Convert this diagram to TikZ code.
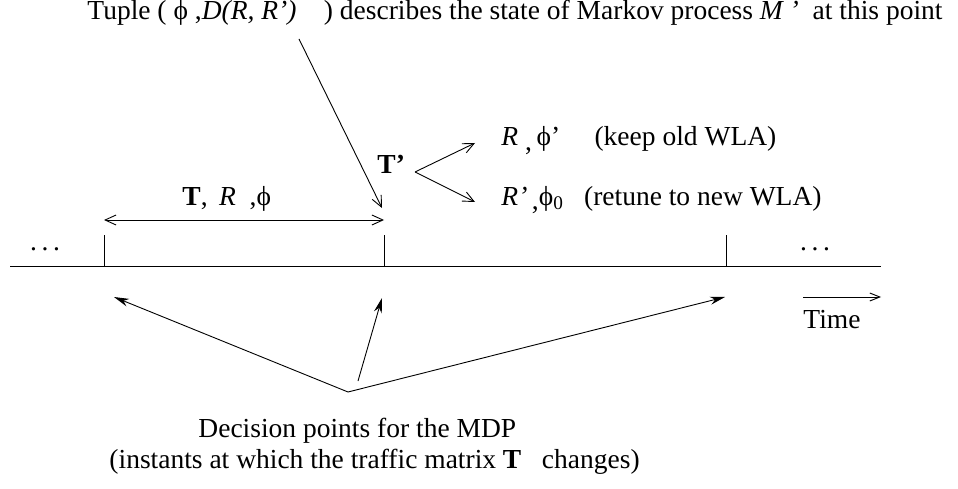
\documentclass[tikz,border=0pt]{standalone}
\usepackage{fontspec}
\setmainfont{Liberation Serif}
\usetikzlibrary{positioning, arrows.meta}

\begin{document}
\begin{tikzpicture}[
  x=1pt, y=-1pt,
  every path/.style={line width=0.9pt},
  lbl/.style={font=\fontsize{27.5}{33}\selectfont, inner sep=0pt},
  arr/.style={-{Straight Barb[length=11pt, width=10pt]}},
  darr/.style={{Straight Barb[length=11pt, width=10pt]}-{Straight Barb[length=11pt, width=10pt]}},
  sarr/.style={-{Stealth[length=15pt, width=8pt]}}
]
\useasboundingbox (0,0) rectangle (958,489);

% time axis and ticks
\coordinate (axisL) at (10,266);
\coordinate (axisR) at (881,266);
\draw (axisL) -- (axisR);
\coordinate (tickA) at (104,235);
\coordinate (tickB) at (384,235);
\coordinate (tickC) at (726,235);
\foreach \t in {tickA, tickB, tickC}
  \draw (\t) -- (\t |- axisL);
\node[lbl] (ldots) at (45,249) {.\,.\,.};
\node[lbl] (rdots) at (815,249) {.\,.\,.};

% interval with current state
\coordinate (spanL) at (104,220);
\coordinate (spanR) at (384,220);
\draw[darr] (spanL) -- (spanR);
\node[lbl, anchor=base west] (spanlbl) at (182,205) {\textbf{T},\ \,\textit{R}\ \ ,ϕ};

% state description
\node[lbl, anchor=base west] (tuple) at (87,20) {Tuple ( ϕ ,\textit{D(R, R')}\ \ \ \ ) describes the state of Markov process \textit{M '}\ \ at this point};
\coordinate (tupleend) at (299,39);
\coordinate (tuplehit) at (382,208);
\draw[arr] (tupleend) -- (tuplehit);

% branching at T'
\node[lbl, anchor=base west] (tprime) at (377,174) {\textbf{T'}};
\coordinate (fork) at (415,172);
\coordinate (forkup) at (475,143);
\coordinate (forkdown) at (475,202);
\draw[arr] (fork) -- (forkup);
\draw[arr] (fork) -- (forkdown);
\node[lbl, anchor=base west] (keep) at (501,146) {\textit{R}\ \raisebox{-5pt}{,}\,ϕ'\ \ \ \ \ (keep old WLA)};
\node[lbl, anchor=base west] (retune) at (501,205) {\textit{R'}\,\raisebox{-5pt}{,}ϕ\textsubscript{0}\ \ \ (retune to new WLA)};

% time direction
\coordinate (timeL) at (803,297);
\coordinate (timeR) at (881,297);
\draw[-{Straight Barb[length=10pt, width=8pt]}] (timeL) -- (timeR);
\node[lbl, anchor=north west] (time) at (803,310) {Time};

% decision points
\coordinate (hub) at (348,392);
\coordinate (hubmid) at (358,381);
\coordinate (decA) at (114,297);
\coordinate (decB) at (382,298);
\coordinate (decC) at (725,297);
\draw[sarr] (hub) -- (decA);
\draw[sarr] (hubmid) -- (decB);
\draw[sarr] (hub) -- (decC);
\node[lbl, anchor=base west] (decision) at (198,437) {Decision points for the MDP};
\node[lbl, anchor=base west] (instants) at (109,468) {(instants at which the traffic matrix \textbf{T}\ \ \ changes)};
\end{tikzpicture}
\end{document}
